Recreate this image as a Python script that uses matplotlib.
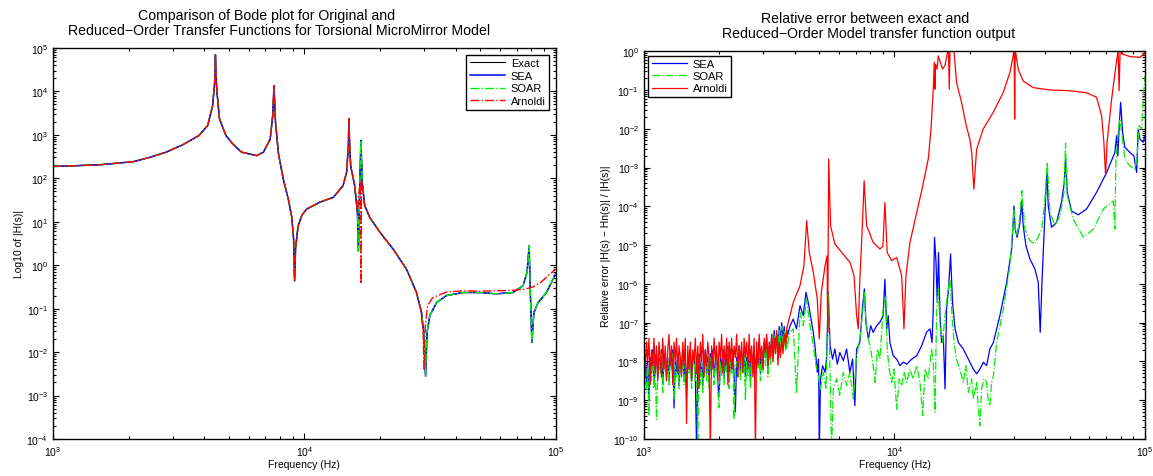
"""Bode plot of original vs reduced-order models, and relative error of each ROM."""
import matplotlib
matplotlib.use("Agg")
import matplotlib.pyplot as plt  # noqa: E402
import numpy as np  # noqa: E402
from matplotlib.ticker import FixedLocator, LogFormatterSciNotation, NullFormatter  # noqa: E402

plt.rcParams["font.family"] = ["Liberation Sans", "DejaVu Sans"]
plt.rcParams["mathtext.fontset"] = "custom"
plt.rcParams["mathtext.rm"] = "Liberation Sans"
plt.rcParams["mathtext.it"] = "Liberation Sans:italic"

# --------------------------------------------------------------------------- #
# left panel: |H(s)| as (log10 f, log10 |H|)
# --------------------------------------------------------------------------- #
exact_logf = [3.0, 3.10, 3.187, 3.319, 3.385, 3.45, 3.516, 3.58, 3.615, 3.635,
              3.643, 3.646, 3.649, 3.652, 3.662, 3.688, 3.715, 3.75, 3.81, 3.837,
              3.864, 3.874, 3.879, 3.885, 3.897, 3.916, 3.936, 3.950, 3.957, 3.961,
              3.965, 3.975, 3.99, 4.009, 4.062, 4.115, 4.154, 4.168, 4.175, 4.177,
              4.180, 4.184, 4.20, 4.211, 4.215, 4.219, 4.222, 4.2247, 4.228, 4.23,
              4.24, 4.26, 4.30, 4.353, 4.406, 4.446, 4.466, 4.475, 4.482, 4.488,
              4.499, 4.526, 4.565, 4.632, 4.698, 4.764, 4.83, 4.87, 4.886, 4.894,
              4.899, 4.905, 4.913, 4.93, 4.963, 5.0]
exact_logh = [2.27, 2.29, 2.31, 2.38, 2.48, 2.60, 2.77, 2.98, 3.21, 3.67,
              4.2, 4.84, 4.3, 4.0, 3.37, 2.98, 2.79, 2.60, 2.52, 2.60,
              2.90, 3.44, 4.13, 3.29, 2.56, 1.98, 1.52, 1.10, 0.6, -0.36,
              0.40, 0.90, 1.15, 1.29, 1.45, 1.56, 1.83, 2.14, 2.75, 3.37,
              2.8, 2.29, 1.83, 1.22, 0.32, 1.5, 2.2, 2.87, 2.3, 1.91,
              1.37, 1.10, 0.76, 0.37, -0.09, -0.63, -1.09, -1.55, -2.56, -1.55,
              -1.16, -0.86, -0.70, -0.63, -0.63, -0.66, -0.63, -0.47, -0.16, 0.45,
              -0.63, -1.78, -1.09, -0.86, -0.63, -0.20]

# Arnoldi departs from the exact curve above ~16 kHz
arn_split = 4.211
arn_tail_logf = [4.214, 4.218, 4.2215, 4.2245, 4.2255, 4.227, 4.2295, 4.235, 4.24,
                 4.26, 4.30, 4.353, 4.406, 4.446, 4.462, 4.472, 4.476, 4.481, 4.49,
                 4.51, 4.565, 4.632, 4.698, 4.764, 4.83, 4.88, 4.91, 4.94, 4.97, 5.0]
arn_tail_logh = [1.55, 1.70, 1.90, 1.50, -0.43, 1.90, 1.95, 1.60, 1.37,
                 1.10, 0.76, 0.37, -0.09, -0.63, -1.0, -1.5, -2.39, -1.4, -0.93,
                 -0.75, -0.62, -0.59, -0.60, -0.59, -0.58, -0.55, -0.50, -0.40, -0.24, -0.09]

# --------------------------------------------------------------------------- #
# right panel: relative error, log10 values
# --------------------------------------------------------------------------- #
# dense noisy part, 1 kHz .. ~3.7 kHz
noise_lo, noise_hi = 3.0, 3.57
red_noise = [-7.6, -8.4, -7.5, -8.0, -7.4, -8.6, -7.7, -8.1, -7.4, -8.3,
             -7.6, -8.5, -7.5, -7.9, -8.4, -7.4, -8.2, -7.6, -8.5, -7.7,
             -7.3, -8.1, -7.6, -8.6, -7.5, -8.0, -7.4, -8.3, -7.6, -7.9,
             -8.4, -7.5, -8.1, -7.4, -9.6, -7.6, -8.2, -7.5, -8.5, -7.7,
             -8.0, -7.4, -8.3, -7.6, -8.7, -7.5, -8.0, -7.3, -8.4, -7.7,
             -8.1, -7.5, -7.9, -10.3, -7.6, -8.2, -7.4, -8.0, -7.6, -8.5,
             -7.5, -7.9, -7.3, -8.3, -7.6, -8.1, -7.4, -8.6, -7.5, -8.0,
             -7.4, -8.2, -7.6, -7.9, -7.3, -8.4, -7.6, -8.0, -7.5, -8.3,
             -7.4, -7.9, -7.5, -8.2, -7.3, -8.0, -7.6, -8.4, -7.4, -10.3,
             -7.5, -8.1, -7.3, -7.9, -7.6, -8.2, -7.4, -7.8, -7.3, -8.1,
             -7.5, -7.9, -7.3, -8.0, -7.4, -7.8, -7.2, -8.1, -7.5, -7.9,
             -7.4, -7.8, -7.3, -7.6, -7.3]
sea_noise = [-8.2, -7.8, -8.6, -8.0, -9.0, -7.9, -8.3, -7.7, -8.5, -8.0,
             -7.8, -8.4, -7.9, -8.2, -7.7, -8.6, -8.0, -7.8, -8.3, -7.9,
             -8.5, -7.8, -8.1, -7.7, -9.2, -8.0, -8.3, -7.8, -8.6, -7.9,
             -8.2, -7.7, -8.4, -8.0, -8.7, -7.9, -8.2, -7.7, -8.5, -8.0,
             -7.8, -8.3, -10.3, -8.1, -7.8, -8.4, -7.9, -8.6, -8.0, -7.7,
             -8.3, -7.9, -8.5, -7.8, -8.2, -7.7, -8.4, -8.0, -7.8, -8.6,
             -8.9, -7.9, -8.2, -7.7, -8.4, -7.9, -8.1, -7.6, -8.5, -7.9,
             -8.2, -7.7, -8.4, -9.3, -7.9, -8.2, -7.6, -8.3, -7.8, -8.1,
             -7.7, -8.4, -7.9, -8.2, -7.6, -8.5, -7.8, -8.1, -7.6, -8.3,
             -7.8, -8.0, -7.5, -8.3, -7.7, -8.1, -7.5, -7.9, -7.4, -8.2,
             -7.6, -7.9, -7.3, -7.8, -7.2, -7.6, -7.3, -7.7, -7.1, -7.5,
             -7.0, -7.4, -7.1, -7.5, -7.2]
soar_noise = [-8.3, -7.9, -8.8, -8.1, -9.4, -8.0, -8.5, -7.8, -8.7, -8.1,
              -9.5, -8.4, -8.0, -8.3, -7.8, -8.8, -8.1, -7.9, -8.5, -8.0,
              -8.6, -7.9, -8.2, -7.8, -9.0, -8.1, -8.4, -7.9, -8.7, -8.0,
              -8.3, -7.8, -8.6, -8.1, -8.9, -8.0, -8.3, -7.8, -8.7, -8.1,
              -7.9, -8.5, -8.2, -10.3, -7.9, -8.6, -8.0, -8.8, -8.1, -7.8,
              -8.5, -8.0, -8.7, -7.9, -8.3, -7.8, -8.6, -8.1, -7.9, -8.8,
              -9.2, -8.0, -8.4, -7.8, -8.6, -8.0, -8.3, -7.7, -8.7, -8.0,
              -8.3, -7.8, -9.5, -8.1, -8.0, -8.4, -7.7, -8.5, -7.9, -8.3,
              -7.8, -9.0, -8.0, -8.4, -7.7, -8.7, -7.9, -8.3, -7.7, -8.5,
              -7.9, -8.2, -7.6, -8.5, -7.8, -8.3, -7.6, -8.1, -7.5, -8.4,
              -7.7, -8.1, -7.4, -8.0, -7.3, -7.8, -7.4, -7.9, -7.2, -7.7,
              -7.1, -7.6, -7.2, -7.7, -7.3]

# sparser part above ~3.7 kHz, (log10 f, log10 err) pairs
red_logf = [3.5695, 3.596, 3.6228, 3.6387, 3.6495, 3.66, 3.676, 3.692, 3.70, 3.708,
            3.723, 3.731, 3.7335, 3.7375, 3.745, 3.762, 3.795, 3.8228, 3.8387, 3.849,
            3.8555, 3.862, 3.873, 3.879, 3.889, 3.915, 3.942, 3.954, 3.962, 3.971,
            3.989, 4.009, 4.029, 4.038, 4.046, 4.062, 4.089, 4.110, 4.135, 4.146,
            4.155, 4.159, 4.162, 4.164, 4.170, 4.175, 4.182, 4.192, 4.202, 4.212,
            4.2156, 4.219, 4.2216, 4.2295, 4.2375, 4.248, 4.268, 4.288, 4.301, 4.309,
            4.317, 4.328, 4.354, 4.394, 4.434, 4.461, 4.474, 4.478, 4.480, 4.482,
            4.494, 4.514, 4.554, 4.621, 4.70, 4.767, 4.807, 4.827, 4.836, 4.843,
            4.849, 4.867, 4.884, 4.893, 4.897, 4.901, 4.913, 4.941, 4.981, 5.0]
red_loge = [-7.16, -6.48, -6.05, -5.53, -4.37, -5.19, -5.70, -6.39, -7.42, -6.22,
            -5.53, -5.28, -7.25, -2.78, -4.50, -4.97, -5.23, -5.45, -5.79, -6.82,
            -7.16, -5.88, -4.33, -3.34, -4.50, -4.93, -5.10, -5.03, -3.90, -5.19,
            -5.40, -5.32, -5.79, -7.16, -5.79, -4.93, -4.16, -3.56, -2.78, -2.01,
            -0.98, -0.28, -0.98, -0.34, -0.46, -0.12, -0.26, -0.46, -0.36, -0.03,
            0.05, -0.98, 0.05, 0.05, 0.03, -0.81, -1.32, -1.96, -2.27, -2.65,
            -3.56, -2.53, -2.01, -1.58, -1.07, -0.55, -0.12, 0.05, -1.75, 0.05,
            -0.46, -0.77, -0.94, -1.00, -1.02, -1.07, -1.19, -1.67, -2.35, -3.21,
            -2.35, -1.24, -0.38, 0.02, -1.02, 0.05, -0.08, -0.14, -0.16, -0.03]

sea_logf = [3.5695, 3.583, 3.596, 3.609, 3.623, 3.636, 3.647, 3.656, 3.665, 3.676,
            3.684, 3.692, 3.697, 3.700, 3.705, 3.713, 3.723, 3.729, 3.736, 3.743,
            3.753, 3.762, 3.772, 3.782, 3.796, 3.809, 3.822, 3.833, 3.842, 3.849,
            3.862, 3.873, 3.88, 3.886, 3.896, 3.905, 3.915, 3.929, 3.942, 3.955,
            3.962, 3.969, 3.975, 3.982, 3.995, 4.009, 4.022, 4.035, 4.049, 4.069,
            4.089, 4.109, 4.128, 4.142, 4.150, 4.155, 4.160, 4.166, 4.171, 4.176,
            4.182, 4.188, 4.195, 4.202, 4.208, 4.216, 4.224, 4.232, 4.242, 4.255,
            4.275, 4.295, 4.315, 4.328, 4.341, 4.355, 4.368, 4.381, 4.395, 4.421,
            4.448, 4.468, 4.474, 4.477, 4.482, 4.490, 4.501, 4.508, 4.514, 4.525,
            4.541, 4.561, 4.574, 4.582, 4.589, 4.597, 4.605, 4.609, 4.614, 4.627,
            4.647, 4.667, 4.678, 4.683, 4.690, 4.707, 4.734, 4.767, 4.807, 4.847,
            4.880, 4.887, 4.892, 4.898, 4.903, 4.911, 4.920, 4.940, 4.956, 4.967,
            4.973, 4.980, 4.993, 5.0]
sea_loge = [-7.42, -7.08, -6.91, -7.16, -6.56, -6.82, -6.22, -6.48, -6.82, -7.25,
            -7.68, -8.28, -7.94, -10.3, -8.45, -8.11, -8.28, -7.94, -6.22, -7.59,
            -7.94, -7.68, -8.07, -7.77, -7.98, -7.68, -8.28, -7.94, -9.14, -7.68,
            -7.51, -6.56, -6.13, -6.99, -7.42, -7.08, -7.25, -7.08, -6.99, -6.82,
            -5.88, -7.16, -6.82, -7.51, -7.85, -7.94, -8.11, -8.02, -8.07, -7.94,
            -7.85, -7.59, -7.25, -7.16, -7.51, -6.65, -4.80, -5.45, -6.48, -5.19,
            -6.82, -7.51, -7.34, -8.71, -6.65, -6.13, -5.23, -6.48, -7.16, -7.51,
            -7.68, -7.94, -8.20, -8.32, -8.20, -8.02, -8.11, -7.68, -7.51, -6.82,
            -5.96, -5.10, -4.42, -3.99, -4.59, -4.80, -4.42, -3.86, -4.50, -5.02,
            -5.36, -5.62, -5.96, -7.25, -5.96, -4.76, -3.56, -3.11, -3.99, -4.54,
            -4.42, -3.90, -3.38, -2.78, -3.64, -4.12, -4.22, -4.07, -3.64, -3.13,
            -2.61, -2.18, -2.70, -1.84, -1.32, -2.10, -2.48, -2.61, -2.70, -3.13,
            -2.01, -2.27, -2.35, -2.18]

soar_logf = [3.5695, 3.583, 3.596, 3.609, 3.623, 3.636, 3.649, 3.656, 3.665, 3.676,
             3.687, 3.696, 3.705, 3.716, 3.727, 3.736, 3.743, 3.749, 3.756, 3.769,
             3.782, 3.796, 3.809, 3.822, 3.836, 3.849, 3.862, 3.873, 3.88, 3.886,
             3.896, 3.905, 3.915, 3.923, 3.932, 3.942, 3.955, 3.966, 3.971, 3.979,
             3.989, 3.998, 4.009, 4.019, 4.029, 4.038, 4.049, 4.062, 4.075, 4.089,
             4.102, 4.113, 4.122, 4.135, 4.148, 4.155, 4.162, 4.168, 4.175, 4.182,
             4.192, 4.202, 4.208, 4.215, 4.222, 4.230, 4.238, 4.248, 4.261, 4.275,
             4.285, 4.295, 4.308, 4.315, 4.328, 4.335, 4.341, 4.348, 4.357, 4.368,
             4.375, 4.381, 4.388, 4.395, 4.408, 4.435, 4.461, 4.472, 4.477, 4.482,
             4.488, 4.498, 4.509, 4.521, 4.541, 4.561, 4.588, 4.601, 4.610, 4.621,
             4.641, 4.661, 4.677, 4.683, 4.690, 4.714, 4.754, 4.794, 4.834, 4.874,
             4.880, 4.884, 4.894, 4.900, 4.907, 4.920, 4.940, 4.960, 4.969, 4.977,
             4.987, 4.993, 5.0]
soar_loge = [-7.68, -7.25, -7.16, -8.80, -6.74, -7.08, -6.39, -6.74, -7.16, -7.59,
             -8.11, -8.37, -8.71, -8.28, -8.71, -6.22, -8.28, -10.3, -8.71, -8.45,
             -8.88, -8.28, -8.63, -8.28, -8.97, -7.85, -7.42, -6.74, -6.22, -6.91,
             -7.42, -7.68, -8.11, -8.54, -7.68, -7.94, -6.65, -6.31, -7.68, -8.20,
             -8.54, -8.20, -9.23, -8.45, -8.63, -8.28, -8.54, -8.20, -8.45, -8.11,
             -8.54, -9.40, -8.20, -8.45, -7.68, -8.02, -9.31, -6.82, -6.13, -7.08,
             -7.51, -6.82, -6.48, -6.13, -5.88, -6.82, -7.51, -7.94, -8.20, -8.54,
             -8.11, -8.80, -8.45, -8.97, -8.54, -9.23, -9.66, -8.71, -8.45, -8.54,
             -9.05, -9.14, -8.54, -8.37, -7.51, -6.65, -5.53, -4.59, -4.07, -4.59,
             -4.76, -4.42, -3.60, -4.59, -4.89, -4.97, -4.59, -3.81, -2.87, -4.16,
             -4.50, -4.24, -3.64, -2.37, -3.73, -4.33, -4.80, -4.59, -4.07, -3.86,
             -4.59, -2.87, -2.01, -1.75, -2.10, -2.78, -2.96, -3.04, -2.70, -1.92,
             -2.01, -1.24, -0.64]

left_title = ["Comparison of Bode plot for Original and",
              "Reduced\u2212Order Transfer Functions for Torsional MicroMirror Model"]
right_title = ["Relative error between exact and",
               "Reduced\u2212Order Model transfer function output"]


def _major(lo, hi):
    return [10.0 ** d for d in range(lo, hi + 1)]


def _minor(lo, hi):
    # 2..9 x 10^k inside the shown decades only
    return [k * 10.0 ** d for d in range(lo, hi) for k in range(2, 10)]


def _style(ax, xdec, ydec):
    ax.set_xscale("log")
    ax.set_yscale("log")
    ax.tick_params(which="both", direction="in", top=True, right=True,
                   labelsize=7.5, width=0.8)
    ax.tick_params(which="major", length=4)
    ax.tick_params(which="minor", length=2)
    for axis, dec in ((ax.xaxis, xdec), (ax.yaxis, ydec)):
        axis.set_major_locator(FixedLocator(_major(*dec)))
        axis.set_major_formatter(LogFormatterSciNotation())
        axis.set_minor_locator(FixedLocator(_minor(*dec)))
        axis.set_minor_formatter(NullFormatter())
    for s in ax.spines.values():
        s.set_linewidth(1.0)


def _title(ax, lines, xs):
    # two lines, each centred on its own spot like the original export
    ax.annotate(lines[0], xy=(xs[0], 1), xycoords="axes fraction", xytext=(0, 21),
                textcoords="offset points", ha="center", va="baseline", fontsize=10.2)
    ax.annotate(lines[1], xy=(xs[1], 1), xycoords="axes fraction", xytext=(0, 10),
                textcoords="offset points", ha="center", va="baseline", fontsize=10.2)


fig = plt.figure(figsize=(11.53, 4.77), dpi=100)
ax1 = fig.add_axes([0.046, 0.0776, 0.436, 0.82])
ax2 = fig.add_axes([0.5585, 0.0776, 0.4345, 0.813])

# ---- left ----
f_ex = 10 ** np.array(exact_logf)
h_ex = 10 ** np.array(exact_logh)
keep = np.array(exact_logf) <= arn_split
f_arn = 10 ** np.concatenate([np.array(exact_logf)[keep], arn_tail_logf])
h_arn = 10 ** np.concatenate([np.array(exact_logh)[keep], arn_tail_logh])

ax1.plot(f_ex, h_ex, "-", color="black", lw=0.8, label="Exact")
ax1.plot(f_ex, h_ex, "-", color="#0000ff", lw=1.1, label="SEA")
ax1.plot(f_ex, h_ex, "-.", color="#00ee00", lw=1.0, label="SOAR")
ax1.plot(f_arn, h_arn, "-.", color="#ff0000", lw=1.0, label="Arnoldi")
_style(ax1, (3, 5), (-4, 5))
ax1.set_xlim(1e3, 1e5)
ax1.set_ylim(1e-4, 1e5)
ax1.set_xlabel("Frequency (Hz)", fontsize=7.5, labelpad=1)
ax1.set_ylabel("Log10 of |H(s)|", fontsize=7.5, labelpad=2)
_title(ax1, left_title, (0.425, 0.449))
leg1 = ax1.legend(loc="upper right", fontsize=8, fancybox=False, framealpha=1,
                  edgecolor="black", handlelength=3.2, borderaxespad=0.6,
                  labelspacing=0.25, borderpad=0.3, handletextpad=0.5)
leg1.get_frame().set_linewidth(1.0)

# ---- right ----
f_noise = np.logspace(noise_lo, noise_hi, len(red_noise))
f_sea = np.concatenate([f_noise, 10 ** np.array(sea_logf)])
e_sea = 10 ** np.concatenate([sea_noise, sea_loge])
f_soar = np.concatenate([f_noise, 10 ** np.array(soar_logf)])
e_soar = 10 ** np.concatenate([soar_noise, soar_loge])
f_red = np.concatenate([f_noise, 10 ** np.array(red_logf)])
e_red = 10 ** np.concatenate([red_noise, red_loge])

ax2.plot(f_sea, e_sea, "-", color="#0000ff", lw=0.9, label="SEA")
ax2.plot(f_soar, e_soar, "-.", color="#00ee00", lw=0.9, label="SOAR")
ax2.plot(f_red, e_red, "-", color="#ff0000", lw=0.9, label="Arnoldi")
_style(ax2, (3, 5), (-10, 0))
ax2.set_xlim(1e3, 1e5)
ax2.set_ylim(1e-10, 1e0)
ax2.set_xlabel("Frequency (Hz)", fontsize=7.5, labelpad=1)
ax2.set_ylabel("Relative error |H(s) \u2212 Hn(s)| / |H(s)|", fontsize=7.5, labelpad=2)
_title(ax2, right_title, (0.441, 0.449))
leg2 = ax2.legend(loc="upper left", fontsize=8, fancybox=False, framealpha=1,
                  edgecolor="black", handlelength=3.2, borderaxespad=0.4,
                  labelspacing=0.2, borderpad=0.3, handletextpad=0.5)
leg2.get_frame().set_linewidth(1.0)

fig.savefig("out.png", dpi=100)
